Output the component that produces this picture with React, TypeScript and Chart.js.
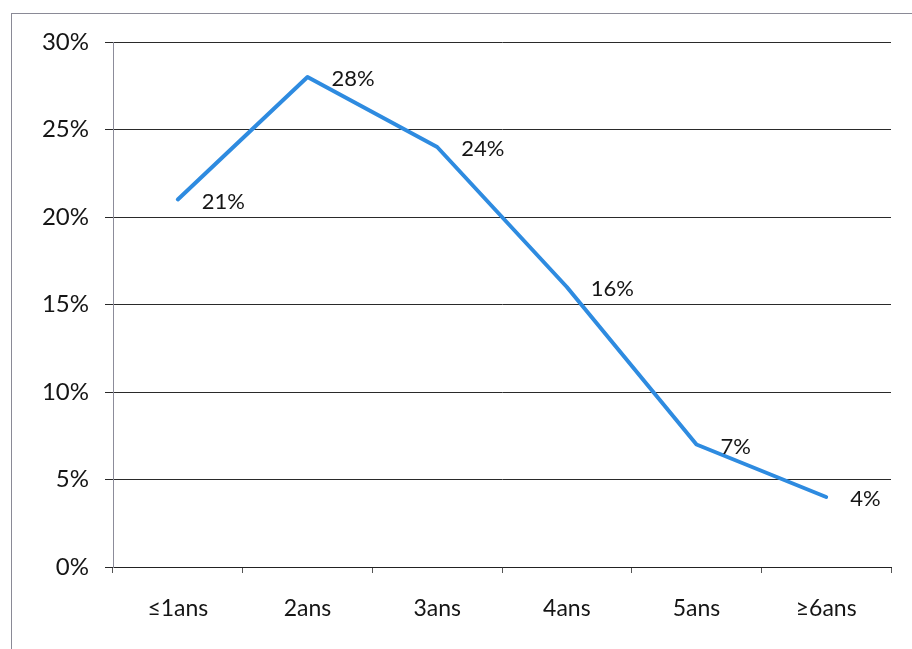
import React, { useEffect, useRef } from "react";
import { Chart, registerables } from "chart.js";

Chart.register(...registerables);

const categories = ["≤1ans", "2ans", "3ans", "4ans", "5ans", "≥6ans"];
const shares = [21, 28, 24, 16, 7, 4];
const yTicks = [0, 5, 10, 15, 20, 25, 30];

const FONT = "Lato, 'Open Sans', sans-serif";
const TEXT = "#151515";

const valueLabels = {
  id: "valueLabels",
  afterDatasetsDraw(chart: any) {
    const { ctx } = chart;
    const meta = chart.getDatasetMeta(0);
    ctx.save();
    ctx.font = `22px ${FONT}`;
    ctx.fillStyle = TEXT;
    ctx.textAlign = "left";
    ctx.textBaseline = "middle";
    meta.data.forEach((pt: any, i: number) => {
      ctx.fillText(`${shares[i]}%`, pt.x + 24, pt.y + 2);
    });
    ctx.restore();
  },
};

export default function App() {
  const ref = useRef<HTMLCanvasElement | null>(null);

  useEffect(() => {
    if (!ref.current) return;
    const chart = new Chart(ref.current, {
      type: "line",
      data: {
        labels: categories,
        datasets: [
          {
            data: shares,
            borderColor: "#2e8be0",
            borderWidth: 4,
            pointRadius: 0,
            tension: 0,
            borderCapStyle: "round",
            borderJoinStyle: "round",
          },
        ],
      },
      options: {
        animation: false,
        responsive: false,
        maintainAspectRatio: false,
        layout: { padding: { left: 0, top: 42, right: 21, bottom: 0 } },
        plugins: {
          legend: { display: false },
          tooltip: { enabled: false },
        },
        scales: {
          x: {
            offset: true,
            grid: {
              offset: true,
              drawOnChartArea: false,
              drawTicks: true,
              tickLength: 6,
              color: "#555555",
            },
            border: { display: true, color: "#222222", width: 1 },
            ticks: {
              font: { family: FONT, size: 23 },
              color: TEXT,
              padding: 22,
              maxRotation: 0,
            },
            afterFit: (s: any) => {
              s.height = 82;
            },
          },
          y: {
            min: 0,
            max: 30,
            afterBuildTicks: (s: any) => {
              s.ticks = yTicks.map((v) => ({ value: v }));
            },
            grid: {
              color: "#2a2a2a",
              lineWidth: 1,
              drawTicks: true,
              tickLength: 8,
            },
            border: { display: true, color: "#8c8c9a", width: 1 },
            ticks: {
              font: { family: FONT, size: 24 },
              color: TEXT,
              padding: 16,
              callback: (v: any) => `${v}%`,
            },
            afterFit: (s: any) => {
              s.width = 113;
            },
          },
        },
      },
      plugins: [valueLabels],
    });
    return () => chart.destroy();
  }, []);

  return (
    <div
      style={{
        position: "absolute",
        left: 0,
        top: 0,
        width: 912,
        height: 649,
        overflow: "hidden",
        background: "#ffffff",
      }}
    >
      <div
        style={{
          position: "absolute",
          left: 11,
          top: 13,
          width: 960,
          height: 700,
          border: "1px solid #8a8a96",
        }}
      />
      <canvas
        ref={ref}
        width={912}
        height={649}
        style={{ position: "absolute", left: 0, top: 0, width: 912, height: 649 }}
      />
    </div>
  );
}
